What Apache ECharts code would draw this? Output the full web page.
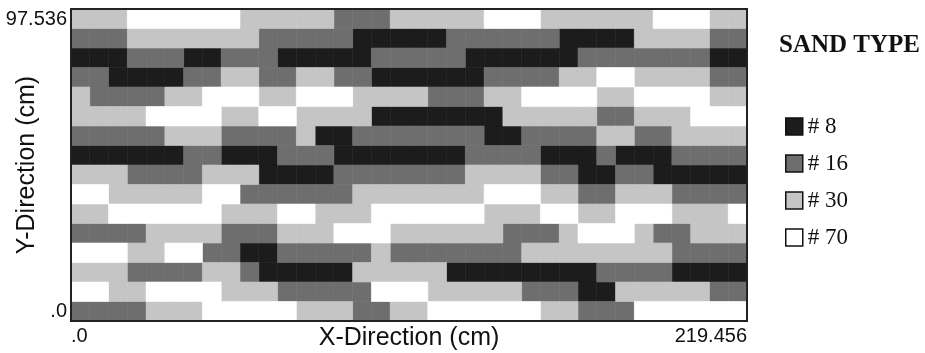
<!DOCTYPE html>
<html>
<head>
<meta charset="utf-8">
<script src="https://cdn.jsdelivr.net/npm/echarts@6/dist/echarts.min.js"></script>
<style>
  html, body { margin: 0; padding: 0; background: #fff; }
  #chart { width: 925px; height: 353px; }
</style>
</head>
<body>
<div id="chart"></div>
<script>
// domain size in cm, split into square cells
const xMaxCm = 219.456;
const yMaxCm = 97.536;
const colCount = 36;
const rowCount = 16;

// sand types, legend labels and fills
const sandCodes = ['K', 'D', 'L', 'W'];
const sandLabels = ['# 8', '# 16', '# 30', '# 70'];
const sandColors = ['#1c1c1c', '#6e6e6e', '#c5c5c5', '#ffffff'];

// cell map, top row first, one letter per column
// K = #8, D = #16, L = #30, W = #70
const rowsTopDown = [
  'LLLWWWWWWLLLLLDDDLLLLLWWWLLLLLLWWWLL',
  'DDDLLLLLLLDDDDDKKKKKDDDDDDKKKKLLLLDD',
  'KKKDDDKKDDDKKKKKDDDDDKKKKKKDDDDDDDKK',
  'DDKKKKDDLLDDLLDDKKKKKKDDDDLLWWLLLLDD',
  'LDDDDLLWWWLLWWWLLLLDDDLLWWWWLLWWWWLL',
  'LLLLWWWWLLWWLLLLKKKKKKKLLLLLDDLLLWWW',
  'DDDDDLLLDDDDLKKDDDDDDDKKDDDDLLDDLLLL',
  'KKKKKKDDKKKDDDKKKKKKKDDDDKKKDKKKDDDD',
  'LLLDDDDLLLKKKKDDDDDDDLLLLDDKKDDKKKKK',
  'WWLLLLLWWDDDDDDLLLLLLLWWWLLDDLLLDDDD',
  'LLWWWWWWLLLWWLLLWWWWWWLLLWWLLWWWLLLW',
  'DDDDLLLLDDDLLLWWWLLLLLLDDDLWWWLDDLLL',
  'WWWLLWWDDKKDDDDDLDDDDDDDLLLLLLLLDDDD',
  'LLLDDDDLLDKKKKKLLLLLKKKKKKKKDDDDKKKK',
  'WWLLWWWWLLLDDDDDWWWLLLLLDDDKKLLLLLDD',
  'DDDDLLLWWWWWLLLDDLLWWWWWWLLDDDWWWWWW'
];

const cellW = xMaxCm / colCount;
const cellH = yMaxCm / rowCount;

const renderCell = (params, api) => {
  const c = api.value(0);
  const r = api.value(1);
  const p0 = api.coord([c * cellW, (r + 1) * cellH]);
  const p1 = api.coord([(c + 1) * cellW, r * cellH]);
  const color = api.visual('color');
  return {
    type: 'rect',
    shape: { x: p0[0], y: p0[1], width: p1[0] - p0[0], height: p1[1] - p0[1] },
    style: { fill: color, stroke: color, lineWidth: 0.6 }
  };
};

const series = sandCodes.map((code, i) => {
  const data = [];
  rowsTopDown.forEach((row, r) => {
    for (let c = 0; c < colCount; c++) {
      if (row[c] === code) data.push([c, rowCount - 1 - r]);
    }
  });
  return {
    name: sandLabels[i],
    type: 'custom',
    coordinateSystem: 'cartesian2d',
    renderItem: renderCell,
    itemStyle: { color: sandColors[i] },
    encode: { x: 0, y: 1 },
    data: data,
    animation: false
  };
});

const sans = 'Liberation Sans, Arial, sans-serif';
const serif = 'Liberation Serif, Times New Roman, serif';
const fmt = (v) => (v === 0 ? '.0' : v.toFixed(3));

const option = {
  animation: false,
  backgroundColor: '#fff',
  title: {
    text: 'SAND TYPE',
    left: 779,
    top: 33,
    padding: 0,
    textStyle: { fontFamily: serif, fontWeight: 'bold', fontSize: 25, color: '#111' }
  },
  legend: {
    orient: 'vertical',
    left: 785,
    top: 115,
    padding: 0,
    itemWidth: 17,
    itemHeight: 17,
    itemGap: 14,
    icon: 'rect',
    selectedMode: false,
    itemStyle: { borderColor: '#111', borderWidth: 1.5 },
    textStyle: { fontFamily: serif, fontSize: 23, color: '#111', lineHeight: 23 },
    data: sandLabels
  },
  grid: {
    left: 71,
    top: 9,
    right: 178,
    bottom: 32,
    containLabel: false,
    outerBoundsMode: 'none',
    show: true,
    z: 10,
    backgroundColor: 'transparent',
    borderColor: '#222',
    borderWidth: 2
  },
  xAxis: {
    type: 'value',
    min: 0,
    max: xMaxCm,
    interval: xMaxCm,
    axisLine: { show: false },
    axisTick: { show: false },
    splitLine: { show: false },
    axisLabel: {
      fontFamily: sans,
      fontSize: 20,
      color: '#111',
      margin: 5,
      showMinLabel: true,
      showMaxLabel: true,
      alignMinLabel: 'left',
      alignMaxLabel: 'right',
      formatter: fmt
    },
    name: 'X-Direction (cm)',
    nameLocation: 'middle',
    nameGap: 5,
    nameMoveOverlap: false,
    nameTextStyle: { fontFamily: sans, fontSize: 25, color: '#111' }
  },
  yAxis: {
    type: 'value',
    min: 0,
    max: yMaxCm,
    interval: yMaxCm,
    axisLine: { show: false },
    axisTick: { show: false },
    splitLine: { show: false },
    axisLabel: {
      fontFamily: sans,
      fontSize: 20,
      color: '#111',
      margin: 4,
      showMinLabel: true,
      showMaxLabel: true,
      verticalAlignMinLabel: 'bottom',
      verticalAlignMaxLabel: 'top',
      formatter: fmt
    },
    name: 'Y-Direction (cm)',
    nameLocation: 'middle',
    nameGap: 31,
    nameMoveOverlap: false,
    nameTextStyle: { fontFamily: sans, fontSize: 25, color: '#111' }
  },
  series: series
};

const chart = echarts.init(document.getElementById('chart'));
chart.setOption(option);
</script>
</body>
</html>
